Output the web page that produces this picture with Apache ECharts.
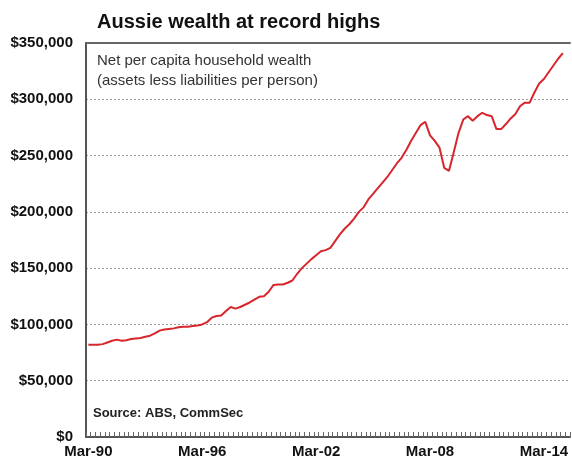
<!DOCTYPE html>
<html>
<head>
<meta charset="utf-8">
<script src="https://cdn.jsdelivr.net/npm/echarts@6/dist/echarts.min.js"></script>
<style>
    html, body { margin:0; padding:0; background:#fff; }
    #chart { width:572px; height:461px; }
</style>
</head>
<body>
<div id="chart"></div>
<script>
// quarters Mar-90 .. Jun-15
var months = ['Mar','Jun','Sep','Dec']
var quarters = []
for (var yr = 1990; yr <= 2015; yr++) {
    for (var q = 0; q < 4; q++) {
        if (yr === 2015 && q > 1) break
        quarters.push(months[q] + '-' + String(yr).slice(2))
    }
}

// net wealth per person, $
var wealth = [
    82000, 82000, 82000, 82500, 84000, 85500, 86500, 85500, 86000, 87000,
    87500, 88000, 89000, 90000, 92000, 94500, 95500, 96000, 96500, 97500,
    98000, 98000, 98500, 99000, 100000, 102000, 106000, 107500, 108000, 112000,
    115500, 114000, 115500, 117500, 119500, 122000, 124500, 125000, 129000, 135000,
    135500, 135500, 137000, 139000, 145000, 150000, 154000, 158000, 161500, 165000,
    166000, 168000, 174000, 180000, 185000, 189000, 194000, 200000, 204000, 211000,
    216000, 221000, 226000, 231000, 237000, 243000, 248000, 255000, 263000, 270000,
    277000, 280000, 268000, 263000, 257000, 239000, 236500, 253000, 270000, 282000,
    285000, 281000, 285000, 288000, 286000, 285000, 273500, 273500, 278000, 283000,
    287000, 294000, 297000, 297000, 306000, 314000, 318000, 324000, 330000, 336000,
    341000
]

var yTicks = [0, 50000, 100000, 150000, 200000, 250000, 300000, 350000]

var myChart = echarts.init(document.getElementById('chart'))
var font = 'Liberation Sans, Arial, sans-serif'

var option = {
    animation: false,
    textStyle: { fontFamily: font },
    title: {
        text: 'Aussie wealth at record highs',
        left: 92,
        top: 7,
        textStyle: { fontSize: 20, fontWeight: 'bold', color: '#111', fontFamily: font }
    },
    grid: { left: 86, top: 43, right: 2, bottom: 24 },
    xAxis: [
        {
            type: 'category',
            data: quarters,
            boundaryGap: true,
            axisLine: { lineStyle: { color: '#555', width: 2 } },
            axisTick: { show: true, inside: true, length: 5, interval: 0, lineStyle: { color: '#666' } },
            axisLabel: {
                interval: 23,
                margin: 7,
                color: '#111',
                fontSize: 15,
                fontWeight: 'bold',
                fontFamily: font
            },
            splitLine: { show: false }
        },
        {
            type: 'category',
            position: 'top',
            data: quarters,
            axisLine: { lineStyle: { color: '#666', width: 2 } },
            axisTick: { show: false },
            axisLabel: { show: false }
        }
    ],
    yAxis: {
        type: 'value',
        min: 0,
        max: yTicks[yTicks.length - 1],
        interval: 50000,
        axisLine: { show: true, lineStyle: { color: '#555', width: 2 } },
        axisTick: { show: false },
        axisLabel: {
            margin: 13,
            color: '#111',
            fontSize: 15,
            fontWeight: 'bold',
            fontFamily: font,
            formatter: function (v) {
                return '$' + v.toLocaleString('en-US')
            }
        },
        splitLine: { show: true, lineStyle: { color: '#999', type: [2, 2], width: 1 } }
    },
    graphic: [
        {
            type: 'text',
            left: 97,
            top: 51,
            style: {
                text: 'Net per capita household wealth\n(assets less liabilities per person)',
                fill: '#333',
                font: '15px ' + font,
                lineHeight: 20
            }
        },
        {
            type: 'text',
            left: 93,
            top: 407,
            style: {
                text: 'Source: ABS, CommSec',
                fill: '#222',
                font: 'bold 13px ' + font
            }
        }
    ],
    series: [
        {
            type: 'line',
            data: wealth,
            symbol: 'none',
            lineStyle: { color: '#d7262c', width: 2 }
        }
    ]
}
myChart.setOption(option)
</script>
</body>
</html>
